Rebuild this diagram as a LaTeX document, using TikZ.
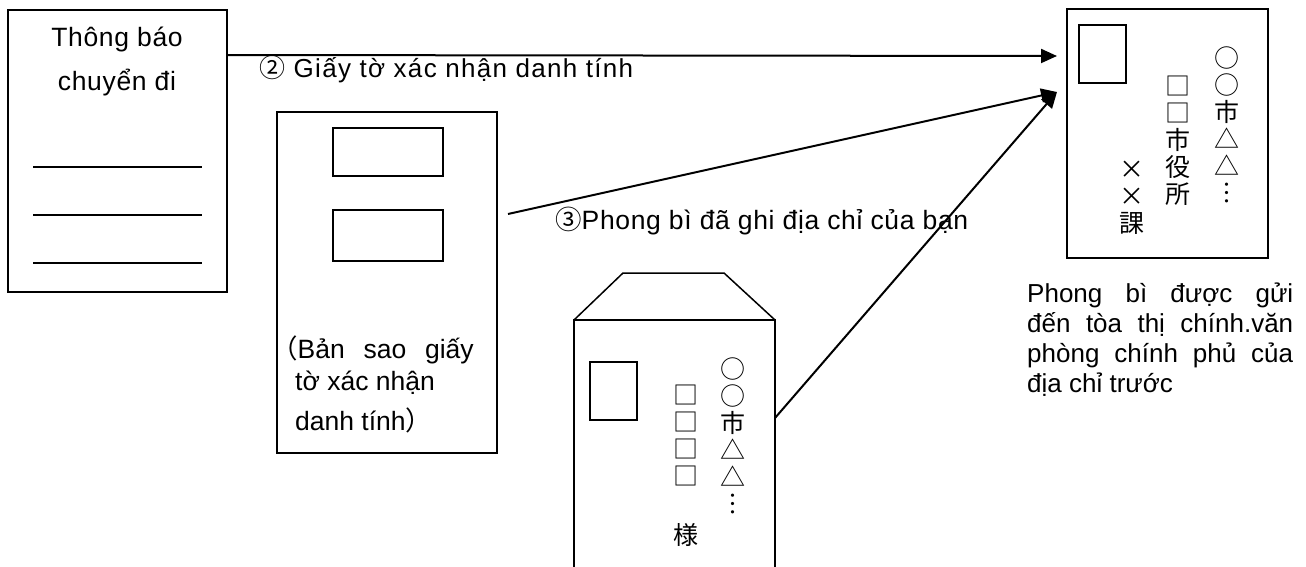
\documentclass[tikz,border=0pt]{standalone}
\usepackage{fontspec}
\setmainfont{Liberation Sans}
\newfontfamily\cjk{Noto Sans CJK JP}
\usetikzlibrary{arrows.meta}
\begin{document}
\begin{tikzpicture}[x=1pt,y=-1pt,
  box/.style={draw, line width=1.5pt, inner sep=0pt, outer sep=0pt, anchor=north west},
  rule/.style={line width=1.2pt},
  txt/.style={font=\fontsize{#1}{30}\selectfont, inner sep=0pt},
  ls/.style 2 args={font=\fontsize{#1}{30}\selectfont\addfontfeature{LetterSpace=#2}, inner sep=0pt},
  vcol/.style={font=\cjk\fontsize{25}{27}\selectfont, align=center, inner sep=0pt},
  conn/.style={line width=2pt, -{Triangle[length=16pt,width=14pt]}},
  plain/.style={line width=1.5pt, line join=miter}]
\useasboundingbox[fill=white] (0,0) rectangle (1306,567);
% moving-out notice
\node[box, minimum width=219pt, minimum height=282pt] (notice) at (8,10) {};
\node[ls={26.5}{2.5}, anchor=base] (noticeA) at (117,47) {Thông báo};
\node[ls={26.5}{2.5}, anchor=base] (noticeB) at (117,91) {chuyển đi};
\draw[rule] (33,167) -- (202,167);
\draw[rule] (33,215) -- (202,215);
\draw[rule] (33,263) -- (202,263);
% ID copy
\node[box, minimum width=220pt, minimum height=341pt] (idcopy) at (277,112) {};
\node[box, minimum width=110pt, minimum height=48pt] (idfieldA) at (333,128) {};
\node[box, minimum width=110pt, minimum height=51pt] (idfieldB) at (333,210) {};
\node[txt=26.5, anchor=base west] (idnoteA) at (271,358) {{\cjk （}\makebox[176pt][s]{Bản sao giấy}};
\node[txt=26.5, anchor=base west] (idnoteB) at (295,390) {tờ xác nhận};
\node[txt=26.5, anchor=base west] (idnoteC) at (295,430) {danh tính{\cjk ）}};
% destination envelope
\node[box, minimum width=201pt, minimum height=249pt] (destenv) at (1067,9) {};
\node[box, minimum width=47pt, minimum height=58pt] (deststamp) at (1079,25) {};
\node[vcol] (destA) at (1227,125) {○\\○\\市\\△\\△\\︙};
\node[vcol] (destB) at (1178,141) {□\\□\\市\\役\\所};
\node[vcol] (destC) at (1132,198) {×\\×\\課};
\node[txt=26, anchor=base west] (capA) at (1027,302) {\makebox[266pt][s]{Phong bì được gửi}};
\node[txt=26, anchor=base west] (capB) at (1027,332) {\makebox[266pt][s]{đến tòa thị chính.văn}};
\node[txt=26, anchor=base west] (capC) at (1027,362) {\makebox[266pt][s]{phòng chính phủ của}};
\node[txt=26, anchor=base west] (capD) at (1027,392) {địa chỉ trước};
% return envelope
\draw[plain] (574,580) -- (574,320) -- (775,320) -- (775,580);
\draw[plain] (574,320) -- (623,273) -- (724,273) -- (775,320);
\node[box, minimum width=47pt, minimum height=58pt] (retstamp) at (590,362) {};
\node[vcol] (retA) at (733,436) {○\\○\\市\\△\\△\\︙};
\node[vcol] (retB) at (686,435) {□\\□\\□\\□};
\node[vcol] (retC) at (686,535) {様};
% labels
\node[ls={26}{5}, anchor=base west] (lblid) at (259,78) {{\cjk ②} Giấy tờ xác nhận danh tính};
\node[ls={26.5}{2.5}, anchor=base west] (lblenv) at (555,229) {{\cjk ③}Phong bì đã ghi địa chỉ của bạn};
% connectors
\coordinate (s1) at (notice.east |- 0,55);
\coordinate (t1) at (1057,56);
\coordinate (s2) at (508,214);
\coordinate (t2) at (1057,92);
\coordinate (s3) at (775,418);
\draw[conn] (s1) -- (t1);
\draw[conn] (s2) -- (t2);
\draw[conn] (s3) -- (t2);
\end{tikzpicture}
\end{document}
